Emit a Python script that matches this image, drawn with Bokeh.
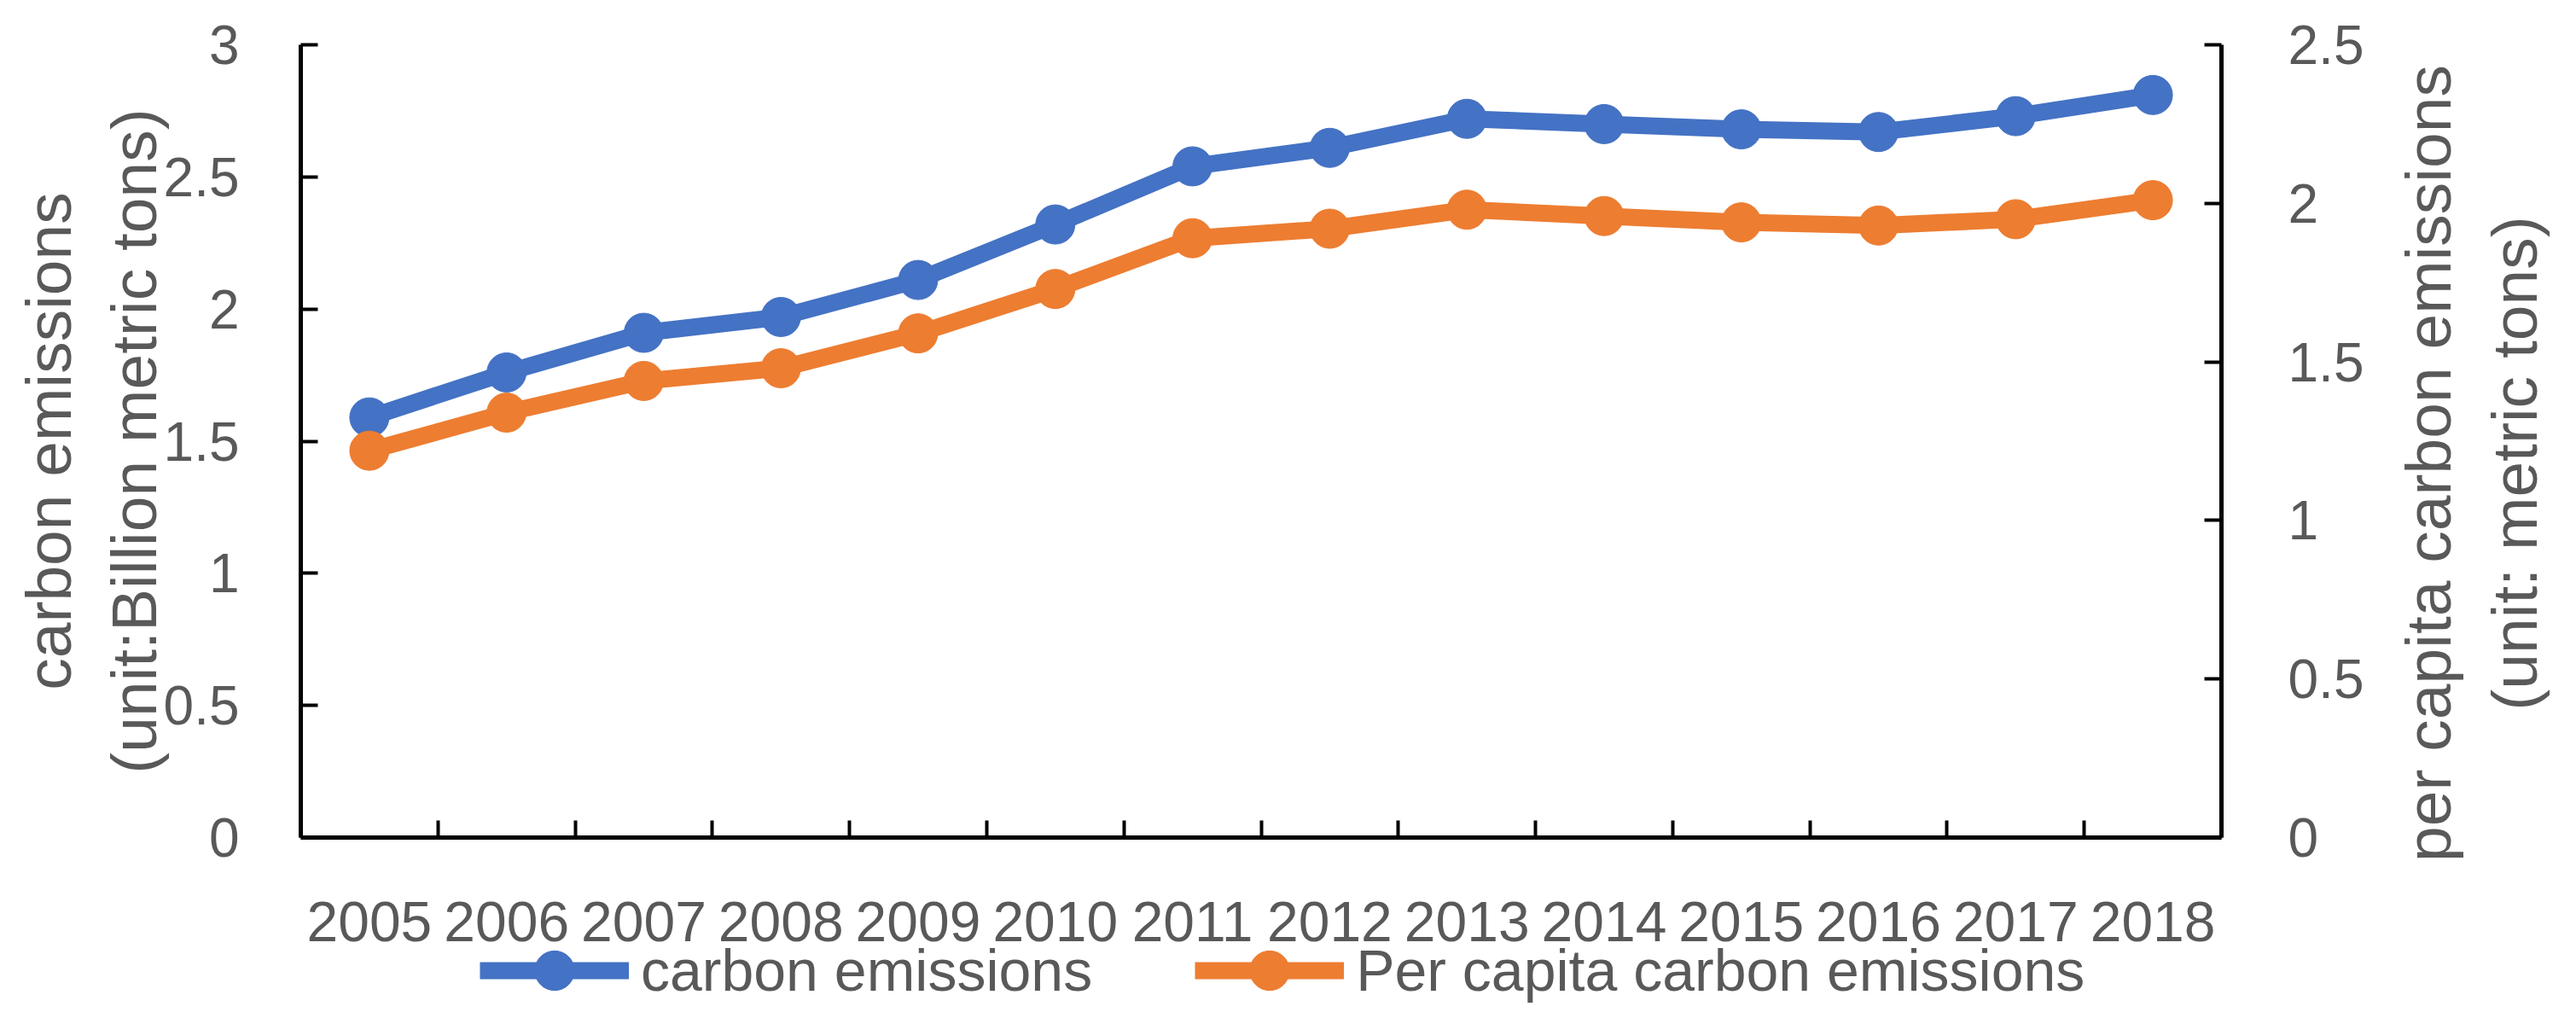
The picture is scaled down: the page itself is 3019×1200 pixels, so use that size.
from bokeh.plotting import figure
from bokeh.layouts import column, row
from bokeh.models import LinearAxis, Range1d, FixedTicker, Legend, LegendItem
from bokeh.embed import file_html
from bokeh.resources import INLINE

# ---- data ----
years = [2005, 2006, 2007, 2008, 2009, 2010, 2011, 2012, 2013, 2014, 2015, 2016, 2017, 2018]
year_labels = [str(y) for y in years]
carbon = [1.59, 1.76, 1.91, 1.97, 2.11, 2.32, 2.54, 2.61, 2.72, 2.70, 2.68, 2.67, 2.73, 2.81]
per_capita = [1.22, 1.34, 1.44, 1.48, 1.59, 1.73, 1.89, 1.92, 1.98, 1.96, 1.94, 1.93, 1.95, 2.01]
left_ticks = [0, 0.5, 1, 1.5, 2, 2.5, 3]
left_labels = ["0", "0.5", "1", "1.5", "2", "2.5", "3"]
right_ticks = [0, 0.5, 1, 1.5, 2, 2.5]
right_labels = ["0", "0.5", "1", "1.5", "2", "2.5"]
series_names = ["carbon emissions", "Per capita carbon emissions"]
left_title = ["carbon emissions", "(unit:Billion metric tons)"]
right_title = ["per capita carbon emissions", "(unit: metric tons)"]

BLUE = "#4472C4"
ORANGE = "#ED7D31"
GRAY = "#595959"
FONT = "Liberation Sans"

LEFT, FRAME_W = 352, 2251
TOP, FRAME_H, BOTTOM = 52, 929, 42
TITLE_SHIFT = 26


def clean(fig):
    fig.xgrid.visible = False
    fig.ygrid.visible = False
    fig.outline_line_color = None
    fig.background_fill_color = "white"
    fig.border_fill_color = "white"


def style_axis(ax):
    ax.axis_line_color = "black"
    ax.axis_line_width = 5
    ax.major_tick_line_color = "black"
    ax.major_tick_line_width = 4
    ax.major_tick_in = 20
    ax.major_tick_out = 0
    ax.minor_tick_line_color = None
    ax.major_label_text_color = GRAY
    ax.major_label_text_font = FONT
    ax.major_label_text_font_size = "64px"
    ax.major_label_standoff = 72
    ax.axis_label_text_color = GRAY
    ax.axis_label_text_font = FONT
    ax.axis_label_text_font_size = "75px"
    ax.axis_label_text_font_style = "normal"


def title_axis(label, standoff):
    ax = LinearAxis(ticker=FixedTicker(ticks=[]), axis_label=label)
    style_axis(ax)
    ax.axis_line_color = None
    ax.major_tick_line_color = None
    ax.major_tick_in = 0
    ax.major_label_standoff = 0
    ax.axis_label_standoff = standoff
    return ax


# ---------------- main chart ----------------
p = figure(frame_width=FRAME_W, frame_height=FRAME_H, output_backend="svg", toolbar_location=None,
           x_range=Range1d(years[0] - 0.5, years[-1] + 0.5), y_range=Range1d(0, 3),
           min_border_left=LEFT, min_border_right=170, min_border_top=TOP, min_border_bottom=BOTTOM,
           x_axis_location=None, y_axis_location=None)
p.extra_y_ranges = {"pc": Range1d(0, 2.5)}
clean(p)

yl = LinearAxis(ticker=FixedTicker(ticks=left_ticks),
                major_label_overrides=dict(zip(left_ticks, left_labels)))
style_axis(yl)
yl.axis_label = left_title[1]
yl.axis_label_standoff = -10
p.add_layout(yl, "left")
p.add_layout(title_axis(left_title[0], 13), "left")

yr = LinearAxis(y_range_name="pc", ticker=FixedTicker(ticks=right_ticks),
                major_label_overrides=dict(zip(right_ticks, right_labels)))
style_axis(yr)
yr.major_label_standoff = 78
p.add_layout(yr, "right")

# tick marks sit on the category boundaries; the year labels are drawn in the strip below
bounds = [y - 0.5 for y in years] + [years[-1] + 0.5]
xa = LinearAxis(ticker=FixedTicker(ticks=[], minor_ticks=bounds))
style_axis(xa)
xa.major_tick_line_color = None
xa.minor_tick_line_color = "black"
xa.minor_tick_line_width = 4
xa.minor_tick_in = 20
xa.minor_tick_out = 0
xa.major_label_standoff = 0
p.add_layout(xa, "below")

p.line(years, carbon, line_width=20, line_color=BLUE, line_join="round")
p.scatter(years, carbon, size=46, fill_color=BLUE, line_color=BLUE)
p.line(years, per_capita, line_width=20, line_color=ORANGE, line_join="round", y_range_name="pc")
p.scatter(years, per_capita, size=46, fill_color=ORANGE, line_color=ORANGE, y_range_name="pc")

# ---------------- year labels + legend strip ----------------
lg = figure(frame_width=FRAME_W, frame_height=78, output_backend="svg", toolbar_location=None,
            x_range=p.x_range, y_range=Range1d(-2, -1),
            min_border_left=LEFT, min_border_right=170, min_border_top=75, min_border_bottom=0,
            x_axis_location=None, y_axis_location=None)
clean(lg)
xl = LinearAxis(ticker=FixedTicker(ticks=years),
                major_label_overrides=dict(zip(years, year_labels)))
style_axis(xl)
xl.axis_line_color = None
xl.major_tick_line_color = None
xl.major_tick_in = 0
xl.major_label_text_font_size = "66px"
xl.major_label_standoff = -4
lg.add_layout(xl, "above")

# legend proxies (their data lie outside this strip's y-range; only the legend glyphs show)
gl1 = lg.line(years, carbon, line_width=20, line_color=BLUE)
ge1 = lg.ellipse(years, carbon, width=46, height=46, width_units="screen", height_units="screen",
                 fill_color=BLUE, line_color=BLUE)
gl2 = lg.line(years, per_capita, line_width=20, line_color=ORANGE)
ge2 = lg.ellipse(years, per_capita, width=46, height=46, width_units="screen", height_units="screen",
                 fill_color=ORANGE, line_color=ORANGE)

legend = Legend(items=[LegendItem(label=series_names[0], renderers=[gl1, ge1]),
                       LegendItem(label=series_names[1], renderers=[gl2, ge2])],
                orientation="horizontal", location=(210, 0),
                glyph_width=175, glyph_height=58, label_height=58, label_standoff=14, spacing=120,
                label_text_font=FONT, label_text_font_size="68px", label_text_color=GRAY,
                padding=0, margin=0, border_line_color=None, background_fill_alpha=0)
lg.add_layout(legend)

# ---------------- right-hand titles (read bottom to top) ----------------
f2 = figure(frame_width=8, frame_height=FRAME_H, output_backend="svg", toolbar_location=None,
            x_range=Range1d(0, 1), y_range=Range1d(0, 1),
            min_border_left=230, min_border_right=0,
            min_border_top=TOP + TITLE_SHIFT, min_border_bottom=BOTTOM - TITLE_SHIFT,
            x_axis_location=None, y_axis_location=None)
clean(f2)
f2.add_layout(title_axis(right_title[1], 15), "left")
f2.add_layout(title_axis(right_title[0], 14), "left")

layout = row(column(p, lg), f2)
open("out.html", "w").write(file_html(layout, INLINE))
